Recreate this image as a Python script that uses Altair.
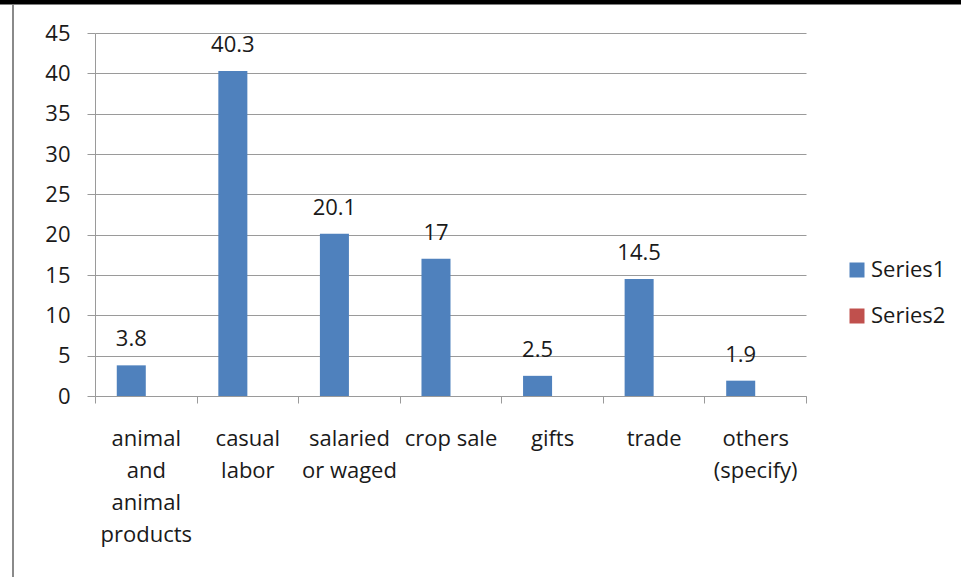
import altair as alt
import pandas as pd

# ---- data ----
categories = [
    "animal\nand\nanimal\nproducts",
    "casual\nlabor",
    "salaried\nor waged",
    "crop sale",
    "gifts",
    "trade",
    "others\n(specify)",
]
series1_values = [3.8, 40.3, 20.1, 17, 2.5, 14.5, 1.9]
series_names = ["Series1", "Series2"]
series_colors = ["#4F81BD", "#C0504D"]
y_ticks = [0, 5, 10, 15, 20, 25, 30, 35, 40, 45]

df = pd.DataFrame({
    "category": categories,
    "value": series1_values,
    "series": ["Series1"] * len(categories),
})
df["label"] = [f"{v:g}" for v in series1_values]

FONT = "Open Sans"
GRAY = "#9a9a9a"
TXT = "#1a1a1a"
W, H = 711, 363
LEFT, TOP = 95, 33

x_enc = alt.X(
    "category:N",
    sort=categories,
    scale=alt.Scale(paddingInner=0, paddingOuter=0),
    axis=alt.Axis(
        title=None, labelAngle=0, labelExpr="split(datum.label, '\\n')",
        tickBand="extent", tickSize=7, tickColor=GRAY, domainColor=GRAY,
        labelFontSize=22, labelFont=FONT, labelColor=TXT, labelPadding=25,
        labelLineHeight=32, labelBaseline="top", grid=False, labelLimit=0,
    ),
)
xo_enc = alt.XOffset(
    "series:N",
    scale=alt.Scale(domain=series_names, paddingOuter=0.75, paddingInner=0),
)
y_enc = alt.Y(
    "value:Q",
    scale=alt.Scale(domain=[0, 45], nice=False),
    axis=alt.Axis(
        values=y_ticks, title=None, tickSize=8, labelPadding=17, grid=True,
        gridColor=GRAY, domainColor=GRAY, tickColor=GRAY, labelFontSize=22,
        labelFont=FONT, labelColor=TXT,
    ),
)

bars = alt.Chart(df).mark_bar().encode(
    x=x_enc,
    xOffset=xo_enc,
    y=y_enc,
    color=alt.Color(
        "series:N",
        scale=alt.Scale(domain=series_names, range=series_colors),
        legend=alt.Legend(
            title=None, orient="none", legendX=751, legendY=226,
            symbolType="square", symbolSize=225, symbolStrokeWidth=0,
            labelFontSize=22, labelFont=FONT, labelColor=TXT,
            labelOffset=3, rowPadding=24,
        ),
    ),
)

labels = alt.Chart(df).mark_text(
    baseline="alphabetic", dy=-19, fontSize=22, font=FONT, color=TXT
).encode(
    x=alt.X("category:N", sort=categories),
    xOffset=alt.XOffset("series:N"),
    y="value:Q",
    text="label:N",
)

frame_data = alt.Data(values=[{"k": 1}])
left_line = alt.Chart(frame_data).mark_rule(color="#8a8a8a", strokeWidth=2).encode(
    x=alt.value(13 - LEFT), y=alt.value(5 - TOP), y2=alt.value(577 - TOP)
)
top_bar = alt.Chart(frame_data).mark_rule(color="black", strokeWidth=5).encode(
    x=alt.value(-LEFT), x2=alt.value(961 - LEFT), y=alt.value(2 - TOP)
)

chart = alt.layer(left_line, top_bar, bars, labels).properties(
    width=W, height=H,
    autosize=alt.AutoSizeParams(type="none"),
    padding={"left": LEFT, "top": TOP, "right": 961 - LEFT - W, "bottom": 577 - TOP - H},
    background="white",
).configure_view(stroke=None)

chart.save("out.html", embed_options={"renderer": "svg", "actions": False})
